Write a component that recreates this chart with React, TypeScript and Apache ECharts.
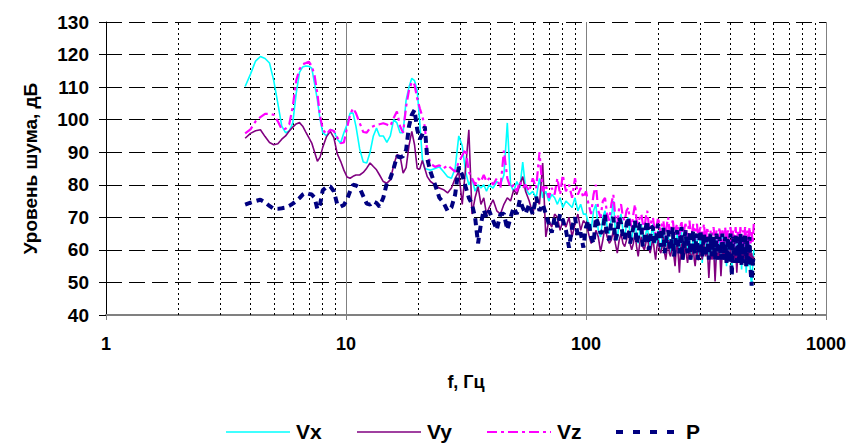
import React, { useEffect, useRef } from "react";
import * as echarts from "echarts";

const FONT = "Arial, 'Liberation Sans', sans-serif";

// Frequencies, Hz
const FREQ = [
  3.8, 4.0, 4.2, 4.4, 4.6, 4.8, 5.0, 5.2, 5.4, 5.6, 5.8, 6.0, 6.2, 6.4, 6.6, 6.8, 7.0, 7.2, 7.4, 7.6,
  7.8, 8.0, 8.3, 8.6, 8.9, 9.2, 9.5, 9.8, 10.1, 10.4, 10.7, 11.0, 11.4, 11.8, 12.2, 12.6, 13.0, 13.4, 13.8, 14.3,
  14.8, 15.3, 15.8, 16.3, 16.8, 17.3, 17.8, 18.3, 18.8, 19.3, 19.8, 20.3, 20.8, 21.3, 21.8,
  22.5, 23.5, 24.5, 25.5, 26.5, 27.5, 28.5, 29.5, 30.5, 31.5, 32.5, 33.5, 34.5, 35.5, 36.5, 37.5, 38.5, 39.5,
  41, 42.5, 44, 45.5, 47, 48.5, 50, 51.5, 53, 54.5, 56, 58, 60, 62, 64, 66, 68, 70, 72, 74, 76, 78, 80,
  82.5, 85, 87.5, 90, 92.5, 95, 97.5,
  100, 105, 110, 115, 120, 125, 130, 135, 140, 145, 150, 155, 160, 165, 170, 175, 180, 185, 190, 195,
  200, 205, 210, 215, 220, 225, 230, 235, 240, 245, 250, 255, 260, 265, 270, 275, 280, 285, 290, 295,
  300, 305, 310, 315, 320, 325, 330, 335, 340, 345, 350, 355, 360, 365, 370, 375, 380, 385, 390, 395,
  400, 405, 410, 415, 420, 425, 430, 435, 440, 445, 450, 455, 460, 465, 470, 475, 480, 485, 490, 495,
  500,
];

// Extra, denser frequency samples in the 100–300 Hz band
const FREQ2 = [
  102.5, 107.5, 112.5, 117.5, 122.5, 127.5, 132.5, 137.5, 142.5, 147.5,
  152.5, 157.5, 162.5, 167.5, 172.5, 177.5, 182.5, 187.5, 192.5, 197.5,
  202.5, 207.5, 212.5, 217.5, 222.5, 227.5, 232.5, 237.5, 242.5, 247.5,
  252.5, 257.5, 262.5, 267.5, 272.5, 277.5, 282.5, 287.5, 292.5, 297.5,
];

const VX = [
  110.2, 114, 118, 119.4, 118.8, 117.4, 112, 105, 98, 96, 96.5, 99, 108, 114.5, 116.2, 116.5, 116.4, 115.8, 111, 106,
  100, 96, 95, 97, 96.5, 94, 92.8, 96, 98.5, 102, 102, 98, 91, 87, 86.7, 90, 95, 97.4, 95, 95,
  93, 95, 100, 99, 96, 96, 106, 110, 112.7, 112, 109, 99, 88, 85, 84.8,
  84.5, 85, 85.5, 84, 82.5, 82, 85, 95, 92, 84, 80, 82, 78, 80, 79, 80, 78, 80,
  79, 81, 80, 83, 99, 80, 78, 81, 79, 87, 79, 77, 78, 76, 82, 76, 78, 75, 77, 76, 74, 76, 73,
  75, 74, 73, 76, 72, 74, 71,
  71, 66, 74, 64, 72, 65, 75, 63, 71, 64, 70, 63, 69, 62, 68, 63, 67, 61, 68, 62,
  66, 60, 67, 61, 65, 59, 66, 60, 65, 59, 66, 58, 65, 60, 64, 57, 65, 59, 64, 58,
  65, 56, 64, 59, 63, 57, 64, 58, 63, 56, 64, 58, 63, 56, 64, 57, 63, 55, 62, 57,
  63, 54, 62, 56, 63, 55, 62, 56, 63, 54, 62, 56, 63, 53, 61, 55, 62, 52, 49, 55,
  60,
];
const VX2 = [
  68, 72, 66, 70, 67, 70, 66, 69, 66, 68, 65, 67, 64, 66, 63, 65, 64, 65, 63, 64,
  62, 64, 62, 63, 61, 63, 61, 62, 61, 62, 60, 62, 61, 62, 60, 61, 60, 62, 59, 61,
];

const VY = [
  94.3, 95.8, 96.6, 96.9, 94.8, 93, 92.3, 92.6, 94, 95, 96.5, 97.7, 98.7, 99.1, 98, 96.2, 94.5, 92.8, 90, 87.2,
  88.5, 91.5, 94.8, 96.4, 94.5, 89.5, 87.2, 84.5, 82.4, 82, 82.6, 83, 83, 83.8, 85.1, 86.7, 85.6, 84.6, 83, 81,
  80.5, 81.5, 86, 89.2, 88.9, 83.6, 85.3, 92, 96.4, 92.3, 85, 84.8, 87.5, 85, 82.5,
  81, 80, 79, 78.5, 77.5, 79, 82, 84, 74, 85, 96.9, 71, 76, 79.4, 74, 76, 71, 73,
  75.4, 72, 71, 74, 76, 75, 78.5, 77, 80, 82.5, 78, 75, 71, 76, 74, 86.7, 64, 69, 67, 71, 70, 66, 69,
  67, 70, 64, 68, 71, 66, 69,
  68, 62, 66, 59.5, 67, 62, 66, 59, 65, 61, 66, 60, 65, 58, 64, 60, 65, 59, 64, 57,
  63, 59, 64, 57, 63, 58, 62, 55, 63, 53, 62, 57, 63, 56, 62, 58, 61, 55, 62, 57,
  61, 57, 62, 58, 61, 51.4, 60, 57, 61, 50.3, 60, 57, 61, 51.9, 60, 57, 61, 56, 60, 57,
  61, 56, 60, 57, 61, 53, 60, 57, 61, 56, 60, 57, 61, 55, 60, 57, 61, 56, 59, 57,
  58,
];
const VY2 = [
  65, 63, 64, 63, 64, 63, 62, 63, 62, 63, 62, 62, 61, 62, 61, 62, 61, 61, 60, 61,
  60, 61, 59, 60, 59, 60, 58, 60, 58, 59, 58, 59, 58, 59, 57, 59, 57, 58, 57, 58,
];

const VZ = [
  95.8, 97, 99.5, 100.8, 101.8, 101.8, 101.5, 99.5, 97, 97.2, 98.5, 104, 112, 115.5, 117, 117.4, 117.8, 116.5, 113.5, 108,
  101, 97, 95.5, 96.9, 96.5, 94.5, 92.8, 93, 97.5, 101.5, 103.5, 102, 99, 96.2, 96, 97.5, 98, 98.4, 98.6, 98.9,
  98.5, 98, 100.5, 102.5, 98, 96, 104, 109, 111.6, 110.7, 106.5, 103.5, 101, 97.9, 90,
  86.5, 85.5, 86, 85, 86, 85, 84, 87, 89, 91, 84, 82, 80, 82, 81, 83, 81, 82,
  80, 82, 79, 90.5, 82, 79, 80, 78, 81, 79, 80, 78, 82, 79, 90, 78, 80, 76, 79, 77, 82, 77, 83,
  78, 80, 76, 82, 77, 79, 76,
  78, 71, 80, 70, 76, 69, 77, 68, 74, 69, 73, 67, 74, 68, 71, 66, 72, 67, 70, 65,
  70, 65, 69, 64, 70, 65, 69, 64, 68, 64, 69, 64, 68, 63, 69, 64, 68, 63, 68, 63,
  67, 63, 68, 62, 67, 63, 66, 62, 67, 62, 66, 62, 67, 62, 66, 61, 67, 62, 66, 61,
  67, 62, 66, 61, 67, 62, 66, 61, 67, 62, 66, 61, 67, 62, 66, 61, 67, 62, 66, 62,
  68,
];
const VZ2 = [
  74, 77, 72, 75, 71, 74, 70, 73, 70, 72, 69, 71, 69, 70, 68, 70, 68, 69, 67, 68,
  67, 68, 66, 68, 66, 68, 66, 67, 66, 67, 65, 67, 65, 67, 65, 66, 65, 67, 65, 66,
];

const P = [
  73.9, 74.5, 75, 75.4, 74.6, 73.5, 72.6, 72.6, 72.8, 73, 73.5, 74.2, 75, 75.9, 77, 77.5, 77.2, 77, 76, 72.5,
  74, 78.3, 79.3, 79.5, 78, 73.9, 73.3, 73.8, 75.5, 78, 80, 79.8, 79, 76.5, 74.2, 73.9, 74.9, 74.4, 73.3, 76,
  80.5, 82, 85, 88.7, 88.4, 88.8, 90.7, 98, 101.5, 103, 97, 94, 95.5, 97.9, 88,
  84, 80, 76, 74.5, 72, 73, 77, 85.5, 83, 79.4, 76, 74, 70, 62, 68, 72.3, 70, 72,
  69, 66.2, 71, 71.1, 66.2, 70, 73, 71, 75.4, 73, 71.1, 74, 71, 76.3, 72, 74, 71.1, 68, 65.3, 70, 67, 71, 69.3,
  66, 60.7, 67, 70, 64, 65.3, 60.7,
  67, 64, 70, 65, 71, 63, 70, 65, 68, 63, 70, 64, 69, 64, 68, 63, 69, 63, 67, 62,
  68, 61, 67, 62, 66, 60, 67, 61, 66, 59, 67, 60, 66, 59, 65, 60, 66, 59, 65, 59,
  66, 58, 65, 58, 64, 57, 65, 58, 64, 57, 65, 57, 64, 57, 65, 57, 64, 56, 64, 56,
  65, 52, 64, 56, 65, 56, 64, 56, 65, 55, 64, 56, 65, 55, 63, 55, 64, 54, 49, 56,
  58,
];
const P2 = [
  69, 62, 68, 66, 64, 69, 63, 70, 64, 68, 62, 67, 62, 68, 61, 67, 60, 67, 62, 66,
  63, 66, 59, 65, 62, 64, 58, 65, 61, 65, 57, 64, 61, 64, 57, 64, 60, 63, 57, 64,
];

const MINOR_X = [2, 3, 4, 5, 6, 7, 8, 9, 20, 30, 40, 50, 60, 70, 80, 90, 200, 300, 400, 500, 600, 700, 800, 900];

const LEGEND = [
  { name: "Vx", color: "#00FFFF", width: 1.6, dash: null as number[] | null, x: 226 },
  { name: "Vy", color: "#800080", width: 1.6, dash: null as number[] | null, x: 357 },
  { name: "Vz", color: "#FF00FF", width: 2.2, dash: [10, 4, 3, 4], x: 487 },
  { name: "P", color: "#000080", width: 4, dash: [7, 10], x: 616 },
];

const merge = (vals: number[], vals2: number[]) =>
  [...FREQ.map((f, i) => [f, vals[i]]), ...FREQ2.map((f, i) => [f, vals2[i]])].sort(
    (a, b) => a[0] - b[0]
  );

export default function App() {
  const ref = useRef<HTMLDivElement>(null);
  useEffect(() => {
    if (!ref.current) return;
    const chart = echarts.init(ref.current, null, { renderer: "svg" });
    const legendGraphics: any[] = [];
    LEGEND.forEach((l) => {
      legendGraphics.push({
        type: "line",
        silent: true,
        shape: { x1: l.x, y1: 432, x2: l.x + 64, y2: 432 },
        style: { stroke: l.color, lineWidth: l.width, lineDash: l.dash || undefined },
      });
      legendGraphics.push({
        type: "text",
        silent: true,
        x: l.x + 70,
        y: 431,
        style: {
          text: l.name,
          fill: "#000",
          font: `bold 21px ${FONT}`,
          verticalAlign: "middle",
          align: "left",
        },
      });
    });
    chart.setOption({
      animation: false,
      backgroundColor: "#fff",
      grid: { left: 106, right: 26, top: 22, bottom: 128, containLabel: false },
      graphic: legendGraphics,
      xAxis: {
        type: "log",
        logBase: 10,
        min: 1,
        max: 1000,
        name: "f, Гц",
        nameLocation: "middle",
        nameGap: 58,
        nameTextStyle: { fontSize: 18, fontWeight: "bold", color: "#000", fontFamily: FONT },
        axisLine: { show: true, onZero: false, lineStyle: { color: "#808080", width: 2 } },
        axisTick: { show: true, length: 5, lineStyle: { color: "#808080" } },
        axisLabel: {
          fontSize: 18,
          fontWeight: "bold",
          color: "#000",
          margin: 20,
          fontFamily: FONT,
          formatter: (v: number) => String(Math.round(v)),
        },
        splitLine: { show: true, lineStyle: { color: "#808080", width: 1, type: "solid" } },
      },
      yAxis: {
        type: "value",
        min: 40,
        max: 130,
        interval: 10,
        name: "Уровень шума, дБ",
        nameLocation: "middle",
        nameGap: 66,
        nameTextStyle: { fontSize: 19, fontWeight: "bold", color: "#000", fontFamily: FONT },
        axisLine: { show: true, lineStyle: { color: "#000", width: 1 } },
        axisTick: { show: true, length: 7, lineStyle: { color: "#000" } },
        axisLabel: { fontSize: 19, fontWeight: "bold", color: "#000", margin: 17, fontFamily: FONT },
        splitLine: { show: true, lineStyle: { color: "#000", width: 1, type: [16, 7] } },
      },
      series: [
        {
          name: "grid",
          type: "line",
          data: [],
          silent: true,
          z: 1,
          markLine: {
            silent: true,
            z: 1,
            symbol: ["none", "none"],
            label: { show: false },
            lineStyle: { color: "#000", width: 1, type: [2, 3] },
            emphasis: { disabled: true },
            data: MINOR_X.map((v) => ({ xAxis: v })),
          },
        },
        {
          name: "Vx",
          type: "line",
          data: merge(VX, VX2),
          symbol: "none",
          z: 2,
          lineStyle: { color: "#00FFFF", width: 1.6 },
          itemStyle: { color: "#00FFFF" },
        },
        {
          name: "Vy",
          type: "line",
          data: merge(VY, VY2),
          symbol: "none",
          z: 3,
          lineStyle: { color: "#800080", width: 1.6 },
          itemStyle: { color: "#800080" },
        },
        {
          name: "Vz",
          type: "line",
          data: merge(VZ, VZ2),
          symbol: "none",
          z: 4,
          lineStyle: { color: "#FF00FF", width: 2.2, type: [10, 4, 3, 4] },
          itemStyle: { color: "#FF00FF" },
        },
        {
          name: "P",
          type: "line",
          data: merge(P, P2),
          symbol: "none",
          z: 5,
          lineStyle: { color: "#000080", width: 4, type: [7, 5] },
          itemStyle: { color: "#000080" },
        },
      ],
    });
    return () => chart.dispose();
  }, []);
  return (
    <div
      ref={ref}
      style={{ position: "fixed", left: 0, top: 0, width: 852, height: 443, background: "#fff" }}
    />
  );
}
